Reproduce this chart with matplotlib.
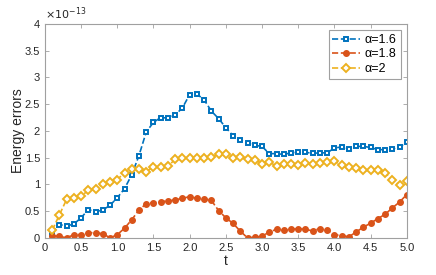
import matplotlib
matplotlib.use('Agg')
import matplotlib.pyplot as plt
import numpy as np

# time points and energy errors (in units of 1e-13)
t = [round(0.1 * i, 1) for i in range(1, 51)]

err_16 = [0.08, 0.25, 0.22, 0.26, 0.375, 0.53, 0.49, 0.52, 0.61, 0.75,
          0.92, 1.18, 1.54, 1.98, 2.16, 2.25, 2.24, 2.30, 2.43, 2.68,
          2.69, 2.58, 2.37, 2.23, 2.06, 1.91, 1.83, 1.77, 1.73, 1.71,
          1.575, 1.575, 1.56, 1.59, 1.60, 1.60, 1.58, 1.59, 1.59, 1.68,
          1.70, 1.67, 1.71, 1.71, 1.69, 1.65, 1.65, 1.66, 1.70, 1.79]

err_18 = [0.04, 0.03, 0.0, 0.06, 0.06, 0.10, 0.09, 0.08, 0.0, 0.06,
          0.18, 0.34, 0.52, 0.64, 0.66, 0.68, 0.69, 0.71, 0.74, 0.77,
          0.74, 0.73, 0.70, 0.51, 0.375, 0.27, 0.125, 0.0, 0.01, 0.03,
          0.11, 0.16, 0.14, 0.16, 0.17, 0.16, 0.13, 0.175, 0.14, 0.06,
          0.04, 0.02, 0.11, 0.20, 0.275, 0.36, 0.44, 0.56, 0.67, 0.81]

err_20 = [0.14, 0.43, 0.72, 0.74, 0.78, 0.89, 0.92, 1.00, 1.04, 1.09,
          1.22, 1.29, 1.28, 1.24, 1.33, 1.33, 1.34, 1.47, 1.50, 1.49,
          1.49, 1.49, 1.51, 1.56, 1.575, 1.50, 1.51, 1.47, 1.46, 1.39,
          1.42, 1.34, 1.375, 1.375, 1.36, 1.40, 1.375, 1.40, 1.41, 1.43,
          1.36, 1.33, 1.31, 1.26, 1.26, 1.26, 1.22, 1.075, 0.99, 1.06]

labels = ['α=1.6', 'α=1.8', 'α=2']
colors = ['#0072BD', '#D95319', '#EDB120']

plt.rcParams['font.family'] = ['Liberation Sans', 'DejaVu Sans']
plt.rcParams['mathtext.fontset'] = 'dejavusans'

fig = plt.figure(figsize=(4.36, 2.75), dpi=100)
ax = fig.add_axes([0.103, 0.135, 0.83, 0.778])

ax.plot(t, err_16, '--s', color=colors[0], lw=1.2, ms=3.5, mew=1.4,
        mfc='white', label=labels[0])
ax.plot(t, err_18, '--o', color=colors[1], lw=1.2, ms=4, mew=1.0,
        mfc=colors[1], label=labels[1])
ax.plot(t, err_20, '--D', color=colors[2], lw=1.2, ms=4, mew=1.4,
        mfc='white', label=labels[2])

ax.set_xlim(0, 5)
ax.set_ylim(0, 4)
ax.set_xticks(np.arange(0, 5.01, 0.5))
ax.set_xticklabels(['0'] + ['%.1f' % v for v in np.arange(0.5, 5.01, 0.5)])
ax.set_yticks(np.arange(0, 4.01, 0.5))
ax.set_yticklabels(['0', '0.5', '1', '1.5', '2', '2.5', '3', '3.5', '4'])

grey = '#262626'
for s in ax.spines.values():
    s.set_color('#a0a0a0')
    s.set_linewidth(0.8)
ax.tick_params(direction='in', length=3, width=0.6, colors='#a0a0a0',
               labelcolor=grey, labelsize=8, top=True, right=True)

ax.set_xlabel('t', fontsize=10, color=grey, labelpad=1)
ax.set_ylabel('Energy errors', fontsize=10, color=grey, labelpad=0)
ax.text(0.0, 1.01, r'$\times10^{-13}$', transform=ax.transAxes,
        fontsize=8, color=grey, ha='left', va='bottom')

leg = ax.legend(loc='upper right', fontsize=9, fancybox=False,
                framealpha=1, edgecolor='#a0a0a0', handlelength=2.2,
                borderpad=0.3, labelspacing=0.2, handletextpad=0.4,
                borderaxespad=0.5)
leg.get_frame().set_linewidth(0.8)

fig.savefig('out.png', dpi=100)
